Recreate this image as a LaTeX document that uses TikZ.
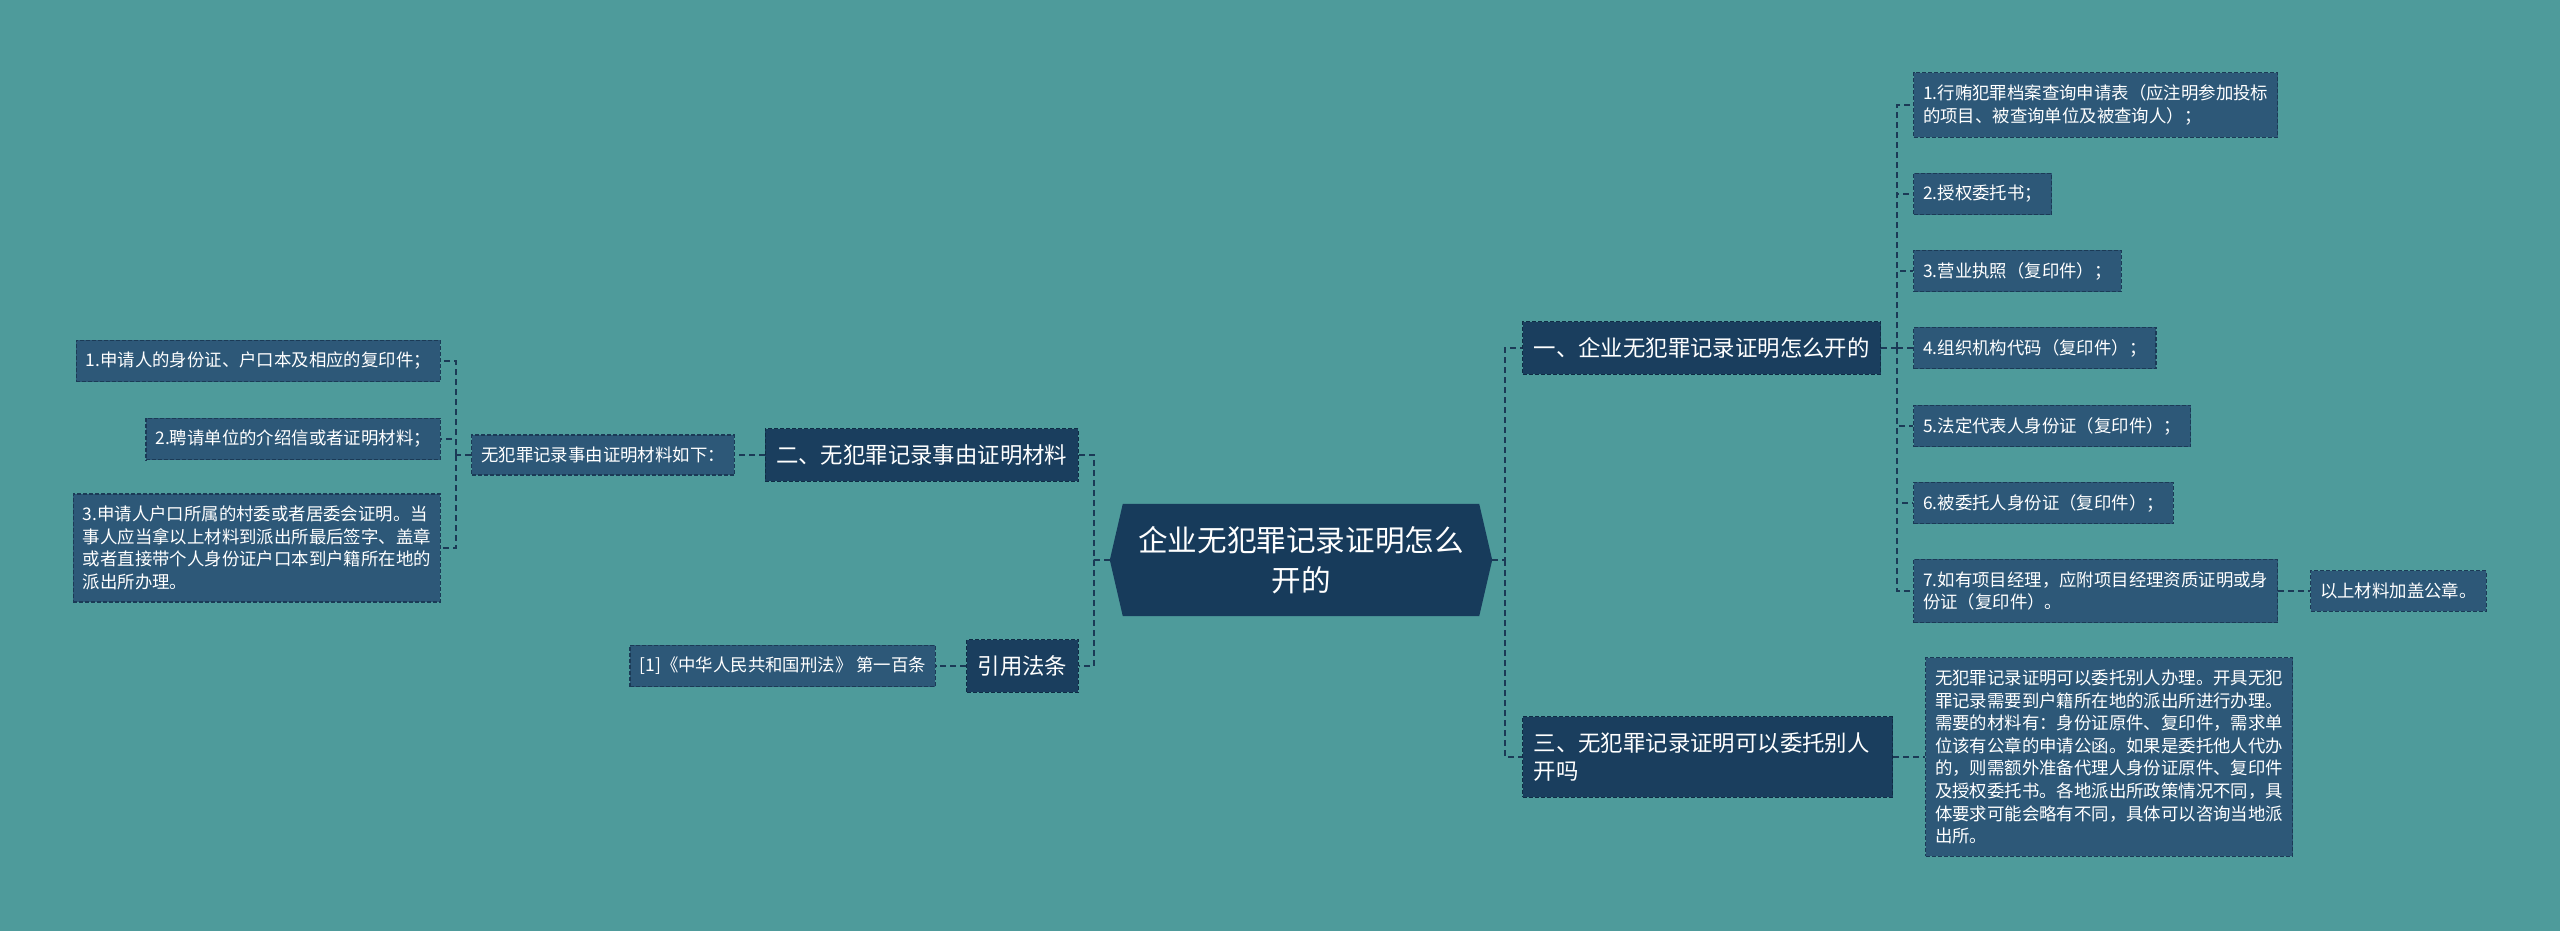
\documentclass[tikz,border=0pt]{standalone}
\usepackage{fontspec}
\setmainfont{Noto Sans CJK SC}
\definecolor{bgteal}{HTML}{4E9B9B}
\definecolor{rootfill}{HTML}{173B5B}
\definecolor{lvlfill}{HTML}{1A3E5E}
\definecolor{leaffill}{HTML}{2D5878}
\definecolor{edgecol}{HTML}{1B3A56}
\definecolor{lvledge}{HTML}{0F2C45}
\pgfdeclarelayer{bglayer}
\pgfsetlayers{bglayer,main}
\begin{document}
\begin{tikzpicture}[x=1pt,y=-1pt,
  conn/.style={draw=edgecol, line width=1.6pt, dash pattern=on 6pt off 4pt},
  rootbox/.style={minimum width=382pt, minimum height=112pt, inner sep=0pt, text=white, align=center,
    font=\fontsize{29.6}{40}\selectfont},
  lvlbox/.style={fill=lvlfill, draw=lvledge, line width=1.3pt, dash pattern=on 4pt off 2pt,
    text=white, inner xsep=11pt, inner ysep=16pt, align=left,
    font=\fontsize{22.4}{28}\selectfont},
  leafbox/.style={fill=leaffill, draw=edgecol, line width=1.2pt, dash pattern=on 4pt off 2pt,
    text=white, inner xsep=9.5pt, inner ysep=12pt, align=left,
    font=\fontsize{17.4}{22.6}\selectfont}
]
\useasboundingbox (0,0) rectangle (2560,931);
\begin{pgfonlayer}{bglayer}
\fill[bgteal] (0,0) rectangle (2560,931);
\end{pgfonlayer}

% root
\node[rootbox] (r) at (1301,560) {企业无犯罪记录证明怎么\\开的};
\begin{pgfonlayer}{bglayer}
\fill[rootfill] (r.west) -- ([xshift=13pt]r.north west) -- ([xshift=-13pt]r.north east)
  -- (r.east) -- ([xshift=-13pt]r.south east) -- ([xshift=13pt]r.south west) -- cycle;
\end{pgfonlayer}

% level 1
\node[lvlbox, anchor=west] (n1) at (1522,348) {一、企业无犯罪记录证明怎么开的};
\node[lvlbox, anchor=west, text width=348pt] (n3) at (1522,757) {三、无犯罪记录证明可以委托别人\\开吗};
\node[lvlbox, anchor=east] (n2) at (1079,455) {二、无犯罪记录事由证明材料};
\node[lvlbox, anchor=east] (cite) at (1079,666) {引用法条};

% right leaves
\node[leafbox, anchor=west] (a1) at (1913,105) {1.行贿犯罪档案查询申请表（应注明参加投标\\的项目、被查询单位及被查询人）；};
\node[leafbox, anchor=west] (a2) at (1913,194) {2.授权委托书；};
\node[leafbox, anchor=west] (a3) at (1913,271) {3.营业执照（复印件）；};
\node[leafbox, anchor=west] (a4) at (1913,348) {4.组织机构代码（复印件）；};
\node[leafbox, anchor=west] (a5) at (1913,426) {5.法定代表人身份证（复印件）；};
\node[leafbox, anchor=west] (a6) at (1913,503) {6.被委托人身份证（复印件）；};
\node[leafbox, anchor=west] (a7) at (1913,591) {7.如有项目经理，应附项目经理资质证明或身\\份证（复印件）。};
\node[leafbox, anchor=west] (seal) at (2310,591) {以上材料加盖公章。};
\node[leafbox, anchor=west] (long) at (1925,757) {无犯罪记录证明可以委托别人办理。开具无犯\\罪记录需要到户籍所在地的派出所进行办理。\\需要的材料有：身份证原件、复印件，需求单\\位该有公章的申请公函。如果是委托他人代办\\的，则需额外准备代理人身份证原件、复印件\\及授权委托书。各地派出所政策情况不同，具\\体要求可能会略有不同，具体可以咨询当地派\\出所。};

% left leaves
\node[leafbox, anchor=east] (sub) at (735,455) {无犯罪记录事由证明材料如下：};
\node[leafbox, anchor=east] (l1) at (441,361) {1.申请人的身份证、户口本及相应的复印件；};
\node[leafbox, anchor=east] (l2) at (441,439) {2.聘请单位的介绍信或者证明材料；};
\node[leafbox, anchor=east] (l3) at (441,548) {3.申请人户口所属的村委或者居委会证明。当\\事人应当拿以上材料到派出所最后签字、盖章\\或者直接带个人身份证户口本到户籍所在地的\\派出所办理。};
\node[leafbox, anchor=east] (c1) at (936,666) {[1]《中华人民共和国刑法》 第一百条};

% trunks
\coordinate (tr) at (1505,560);
\coordinate (tl) at (1094,560);
\coordinate (t1) at (1897,348);
\coordinate (tsub) at (456,455);

% connectors
\draw[conn] (r.east) -- (tr) |- (n1.west);
\draw[conn] (tr) |- (n3.west);
\draw[conn] (r.west) -- (tl) |- (n2.east);
\draw[conn] (tl) |- (cite.east);
\draw[conn] (n1.east) -- (t1);
\foreach \k in {a1,a2,a3,a4,a5,a6,a7} { \draw[conn] (t1) |- (\k.west); }
\draw[conn] (a7.east) -- (seal.west);
\draw[conn] (n3.east) -- (long.west);
\draw[conn] (n2.west) -- (sub.east);
\draw[conn] (sub.west) -- (tsub);
\foreach \k in {l1,l2,l3} { \draw[conn] (tsub) |- (\k.east); }
\draw[conn] (cite.west) -- (c1.east);
\end{tikzpicture}
\end{document}
